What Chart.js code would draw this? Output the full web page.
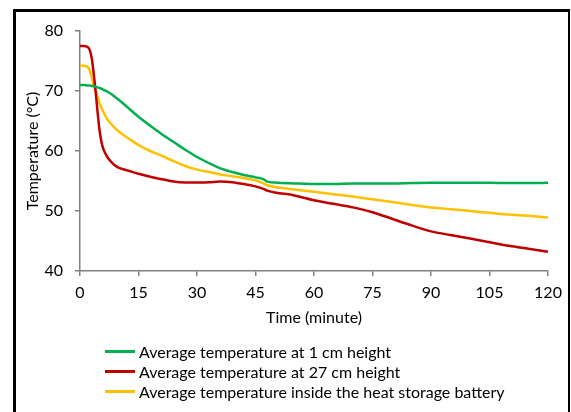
<!DOCTYPE html>
<html>
<head>
<meta charset="utf-8">
<script src="https://cdn.jsdelivr.net/npm/chart.js@4/dist/chart.umd.min.js"></script>
<style>
  body { margin: 0; background: #fff; }
  #wrap { position: relative; width: 571px; height: 412px; overflow: hidden; }
  #frame { position: absolute; left: 13px; top: 9px; width: 557px; height: 420px; box-sizing: border-box;
           border-top: 3px solid #000; border-left: 3px solid #000; border-right: 2px solid #000; }
  canvas { position: absolute; left: 0; top: 0; }
  #legend { position: absolute; left: 105px; top: 341px; font-family: Lato, sans-serif; font-size: 16px; color: #000; }
  .row { height: 20px; display: flex; align-items: center; }
  .swatch { width: 30px; height: 3px; margin-right: 4px; }
</style>
</head>
<body>
<div id="wrap">
  <div id="frame"></div>
  <canvas id="tempChart" width="571" height="412"></canvas>
  <div id="legend"></div>
</div>
<script>
// waktu pengukuran (menit)
const times = [0, 1, 2, 2.5, 3, 3.5, 4, 4.5, 5, 5.5, 6, 7, 8, 9, 10, 12, 15, 18, 21, 24, 27, 30, 33, 36, 39, 42, 45, 47, 48, 50,
               55, 60, 65, 70, 75, 80, 85, 90, 95, 100, 105, 110, 115, 120];

// suhu rata-rata pada ketinggian 1 cm
const temp1cm = [71, 71, 70.9, 70.9, 70.85, 70.8, 70.7, 70.6, 70.5, 70.4, 70.2, 69.9, 69.5, 69.0, 68.5, 67.4, 65.7, 64.2, 62.8, 61.5,
                 60.2, 59.0, 58.0, 57.1, 56.5, 56.0, 55.6, 55.3, 54.9, 54.75, 54.6, 54.5, 54.5, 54.6, 54.6, 54.6, 54.65, 54.7,
                 54.7, 54.7, 54.7, 54.65, 54.65, 54.7];

// suhu rata-rata pada ketinggian 27 cm
const temp27cm = [77.5, 77.5, 77.3, 76.8, 75.5, 73.0, 70.0, 66.5, 63.5, 61.5, 60.3, 59.0, 58.2, 57.6, 57.2, 56.8, 56.2, 55.7, 55.3,
                  54.9, 54.75, 54.75, 54.8, 54.9, 54.8, 54.5, 54.1, 53.7, 53.4, 53.1, 52.6, 51.8, 51.2, 50.6, 49.8, 48.7, 47.6,
                  46.6, 46.0, 45.4, 44.8, 44.2, 43.7, 43.2];

// suhu rata-rata di dalam baterai penyimpan panas
const tempBattery = [74.2, 74.2, 74.0, 73.4, 72.3, 71.0, 70.0, 69.0, 68.0, 67.2, 66.5, 65.3, 64.5, 63.8, 63.2, 62.3, 61.0, 60.0,
                     59.2, 58.3, 57.5, 56.9, 56.5, 56.1, 55.8, 55.5, 55.1, 54.6, 54.3, 54.0, 53.6, 53.2, 52.8, 52.4, 51.95, 51.5,
                     51.0, 50.6, 50.3, 50.0, 49.7, 49.4, 49.2, 48.9];

const seriesLabels = [
    'Average temperature at 1 cm height',
    'Average temperature at 27 cm height',
    'Average temperature inside the heat storage battery'
];
const seriesColors = ['#00B050', '#C00000', '#FFC000'];

const xTicks = [0, 15, 30, 45, 60, 75, 90, 105, 120];
const yTicks = [40, 50, 60, 70, 80];

function toPoints(values) {
    return times.map((t, i) => ({ x: t, y: values[i] }));
}

const allSeries = [temp1cm, temp27cm, tempBattery];
const datasets = allSeries.map((vals, i) => ({
    label: seriesLabels[i],
    data: toPoints(vals),
    borderColor: seriesColors[i],
    backgroundColor: seriesColors[i],
    borderWidth: 2.5,
    pointRadius: 0,
    cubicInterpolationMode: 'monotone',
    fill: false
}));

const font = { family: 'Lato, sans-serif', size: 16 };
const axisColor = '#808080';

const ctx = document.getElementById('tempChart').getContext('2d');
const chart = new Chart(ctx, {
    type: 'line',
    data: { datasets: datasets },
    options: {
        responsive: false,
        animation: false,
        layout: { padding: { left: 20, top: 31, right: 23, bottom: 81 } },
        plugins: {
            legend: { display: false },
            tooltip: { enabled: false }
        },
        scales: {
            x: {
                type: 'linear',
                min: 0,
                max: 120,
                afterBuildTicks: s => { s.ticks = xTicks.map(v => ({ value: v })); },
                afterFit: s => { s.height = 60; },
                ticks: { color: '#000', font: font, padding: 7, maxRotation: 0 },
                grid: { drawOnChartArea: false, tickLength: 5, color: axisColor, lineWidth: 1.5 },
                border: { color: axisColor, width: 1.5 },
                title: { display: true, text: 'Time (minute)', color: '#000', font: font, padding: { top: 3 } }
            },
            y: {
                min: 40,
                max: 80,
                afterBuildTicks: s => { s.ticks = yTicks.map(v => ({ value: v })); },
                afterFit: s => { s.width = 60; },
                ticks: { color: '#000', font: font, padding: 12 },
                grid: { drawOnChartArea: false, tickLength: 5, color: axisColor, lineWidth: 1.5 },
                border: { color: axisColor, width: 1.5 },
                title: { display: true, text: 'Temperature (°C)', color: '#000', font: font, padding: { top: 3, bottom: 0 } }
            }
        }
    }
});

// legenda HTML dari dataset
const legend = document.getElementById('legend');
chart.data.datasets.forEach(ds => {
    const row = document.createElement('div');
    row.className = 'row';
    row.innerHTML = `<div class="swatch" style="background:${ds.borderColor}"></div><span>${ds.label}</span>`;
    legend.appendChild(row);
});
</script>
</body>
</html>
